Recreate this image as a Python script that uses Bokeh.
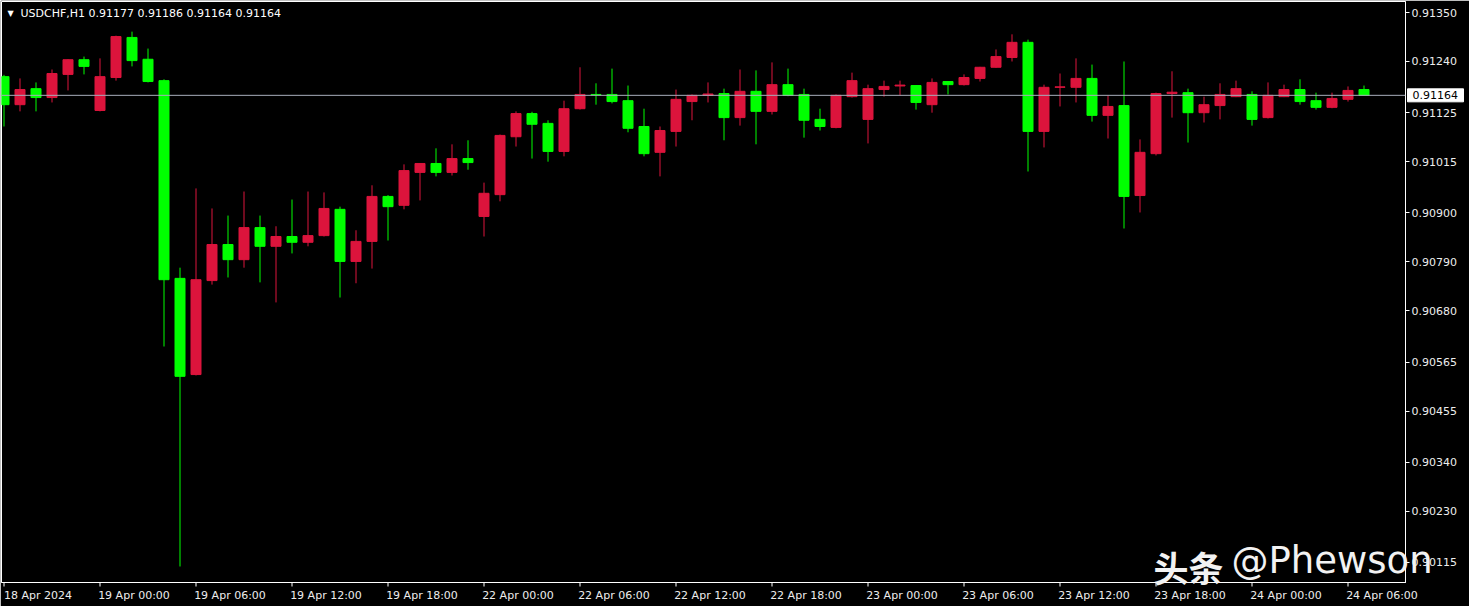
from bokeh.plotting import figure
from bokeh.models import (ColumnDataSource, FixedTicker, PrintfTickFormatter, Span,
                          Label, Range1d)
from bokeh.embed import file_html
from bokeh.resources import INLINE
from bokeh.core.properties import value

symbol = "USDCHF,H1"

# hourly bars, index 0 = 18 Apr 2024 18:00
opens = [0.91206, 0.91143, 0.91179, 0.91159, 0.91211, 0.91244, 0.91130, 0.91204, 0.91294, 0.91245,
         0.91197, 0.90753, 0.90537, 0.90748, 0.90829, 0.90795, 0.90867, 0.90825, 0.90847, 0.90834,
         0.90849, 0.90908, 0.90791, 0.90836, 0.90937, 0.90917, 0.90991, 0.91011, 0.90991, 0.91022,
         0.90892, 0.90941, 0.91071, 0.91123, 0.91101, 0.91038, 0.91134, 0.91166, 0.91166, 0.91152,
         0.91094, 0.91036, 0.91083, 0.91150, 0.91164, 0.91168, 0.91114, 0.91173, 0.91128, 0.91188,
         0.91166, 0.91110, 0.91092, 0.91161, 0.91110, 0.91177, 0.91185, 0.91186, 0.91143, 0.91195,
         0.91188, 0.91202, 0.91227, 0.91249, 0.91283, 0.91083, 0.91182, 0.91182, 0.91202, 0.91119,
         0.91141, 0.90939, 0.91033, 0.91168, 0.91170, 0.91125, 0.91141, 0.91161, 0.91166, 0.91114,
         0.91161, 0.91177, 0.91152, 0.91137, 0.91155, 0.91177]
highs = [0.91210, 0.91202, 0.91193, 0.91222, 0.91245, 0.91251, 0.91247, 0.91298, 0.91307, 0.91269,
         0.91200, 0.90777, 0.90955, 0.90910, 0.90894, 0.90948, 0.90894, 0.90870, 0.90930, 0.90948,
         0.90946, 0.90914, 0.90861, 0.90962, 0.90940, 0.91009, 0.91012, 0.91045, 0.91054, 0.91063,
         0.90968, 0.91076, 0.91128, 0.91127, 0.91108, 0.91152, 0.91227, 0.91191, 0.91224, 0.91186,
         0.91134, 0.91094, 0.91177, 0.91166, 0.91193, 0.91179, 0.91222, 0.91220, 0.91238, 0.91224,
         0.91179, 0.91134, 0.91166, 0.91215, 0.91188, 0.91197, 0.91197, 0.91187, 0.91202, 0.91196,
         0.91211, 0.91228, 0.91267, 0.91301, 0.91289, 0.91188, 0.91213, 0.91247, 0.91233, 0.91164,
         0.91240, 0.91065, 0.91170, 0.91218, 0.91179, 0.91161, 0.91191, 0.91197, 0.91173, 0.91193,
         0.91188, 0.91200, 0.91170, 0.91170, 0.91184, 0.91186]
lows = [0.91094, 0.91128, 0.91128, 0.91148, 0.91175, 0.91211, 0.91128, 0.91197, 0.91229, 0.91193,
        0.90600, 0.90106, 0.90535, 0.90739, 0.90755, 0.90777, 0.90744, 0.90699, 0.90809, 0.90825,
        0.90847, 0.90710, 0.90742, 0.90775, 0.90838, 0.90908, 0.90928, 0.90982, 0.90984, 0.90997,
        0.90847, 0.90926, 0.91049, 0.91022, 0.91015, 0.91027, 0.91132, 0.91143, 0.91146, 0.91081,
        0.91027, 0.90982, 0.91049, 0.91108, 0.91148, 0.91063, 0.91096, 0.91054, 0.91121, 0.91162,
        0.91069, 0.91085, 0.91090, 0.91159, 0.91056, 0.91161, 0.91164, 0.91132, 0.91125, 0.91166,
        0.91186, 0.91195, 0.91226, 0.91240, 0.90993, 0.91047, 0.91139, 0.91148, 0.91105, 0.91067,
        0.90865, 0.90901, 0.91029, 0.91114, 0.91058, 0.91103, 0.91110, 0.91160, 0.91096, 0.91112,
        0.91160, 0.91143, 0.91132, 0.91135, 0.91150, 0.91164]
closes = [0.91143, 0.91177, 0.91159, 0.91213, 0.91244, 0.91229, 0.91206, 0.91296, 0.91242, 0.91195,
          0.90750, 0.90533, 0.90750, 0.90829, 0.90795, 0.90867, 0.90825, 0.90847, 0.90834, 0.90849,
          0.90910, 0.90791, 0.90836, 0.90937, 0.90914, 0.90995, 0.91011, 0.90991, 0.91022, 0.91013,
          0.90944, 0.91074, 0.91123, 0.91099, 0.91038, 0.91134, 0.91166, 0.91165, 0.91150, 0.91090,
          0.91033, 0.91085, 0.91155, 0.91164, 0.91167, 0.91114, 0.91173, 0.91128, 0.91188, 0.91164,
          0.91108, 0.91094, 0.91164, 0.91197, 0.91179, 0.91184, 0.91187, 0.91148, 0.91193, 0.91188,
          0.91204, 0.91227, 0.91251, 0.91283, 0.91083, 0.91182, 0.91183, 0.91202, 0.91119, 0.91139,
          0.90937, 0.91036, 0.91168, 0.91171, 0.91125, 0.91143, 0.91166, 0.91179, 0.91110, 0.91164,
          0.91177, 0.91150, 0.91137, 0.91157, 0.91175, 0.91164]

x_tick_idx = [0, 6, 12, 18, 24, 30, 36, 42, 48, 54, 60, 66, 72, 78, 84]
x_tick_labels = ["18 Apr 2024", "19 Apr 00:00", "19 Apr 06:00", "19 Apr 12:00", "19 Apr 18:00",
                 "22 Apr 00:00", "22 Apr 06:00", "22 Apr 12:00", "22 Apr 18:00", "23 Apr 00:00",
                 "23 Apr 06:00", "23 Apr 12:00", "23 Apr 18:00", "24 Apr 00:00", "24 Apr 06:00"]
y_ticks = [0.90115, 0.90230, 0.90340, 0.90455, 0.90565, 0.90680, 0.90790, 0.90900,
           0.91015, 0.91125, 0.91240, 0.91350]
watermark_cn = "头条"
watermark_en = "@Phewson"

UP = "#DC143C"
DOWN = "#00FF00"
FG = "#EDEDED"
FONT = "DejaVu Sans"

idx = list(range(len(opens)))
src = ColumnDataSource(dict(
    x=idx, h=highs, l=lows,
    top=[max(o, c) for o, c in zip(opens, closes)],
    bottom=[min(o, c) for o, c in zip(opens, closes)],
    color=[UP if c >= o else DOWN for o, c in zip(opens, closes)],
))

W, H = 1469, 606
FW, FH = 1404, 581          # frame size in px
PX = 16.0                   # px per bar
X0 = -0.15625
X1 = X0 + FW / PX
Y0, Y1 = 0.90070065, 0.91374701
DY = (Y1 - Y0) / FH         # price per px
LABEL_SHIFT = 34 / PX       # MT4 time labels start at their tick (half label width)

p = figure(width=W, height=H, output_backend="svg", toolbar_location=None,
           x_range=Range1d(X0, X1), y_range=Range1d(Y0, Y1),
           y_axis_location="right",
           background_fill_color="black", border_fill_color="black")
p.min_border = 0
p.min_border_left = 1
p.min_border_top = 1
p.min_border_right = W - 1 - FW
p.min_border_bottom = H - 1 - FH
p.outline_line_color = "white"
p.outline_line_width = 1
p.xgrid.visible = False
p.ygrid.visible = False

# price axis
p.yaxis.ticker = FixedTicker(ticks=y_ticks)
p.yaxis.formatter = PrintfTickFormatter(format="%.5f")
p.yaxis.major_label_text_font = FONT
p.yaxis.major_label_text_font_size = "11px"
p.yaxis.major_label_text_color = FG
p.yaxis.major_label_standoff = 2
p.yaxis.axis_line_color = "white"
p.yaxis.major_tick_line_color = "white"
p.yaxis.major_tick_out = 4
p.yaxis.major_tick_in = 0
p.yaxis.minor_tick_line_color = None

# time axis: labels drawn on a shifted copy of the x range so they start at their tick
p.extra_x_ranges = {"labels": Range1d(X0 - LABEL_SHIFT, X1 - LABEL_SHIFT)}
xax = p.xaxis[0]
xax.x_range_name = "labels"
xax.ticker = FixedTicker(ticks=x_tick_idx)
xax.major_label_overrides = {t: s for t, s in zip(x_tick_idx, x_tick_labels)}
xax.major_label_text_font = FONT
xax.major_label_text_font_size = "11px"
xax.major_label_text_color = FG
xax.major_label_standoff = 2
xax.axis_line_color = "white"
xax.major_tick_line_color = None
xax.major_tick_out = 4
xax.major_tick_in = 0
xax.minor_tick_line_color = None
# tick marks at the real bar positions
p.segment(x0=x_tick_idx, y0=[Y0] * len(x_tick_idx), x1=x_tick_idx,
          y1=[Y0 - 4 * DY] * len(x_tick_idx), line_color="white", line_width=1,
          level="overlay")

# candles
p.segment(x0="x", y0="l", x1="x", y1="h", line_color="color", line_width=1, source=src)
p.vbar(x="x", width=0.625, top="top", bottom="bottom", fill_color="color",
       line_color="color", line_width=1, source=src)

# current price line
p.add_layout(Span(location=closes[-1], dimension="width", line_color="#A8AEBB", line_width=1))

# price box on the axis (overlay level, outside the frame)
p.rect(x=[X1 + 30 / PX], y=[closes[-1]], width=56 / PX, height=13 * DY,
       fill_color="white", line_color="white", level="overlay")
p.text(x=[X1 + 7 / PX], y=[closes[-1]], text=[f"{closes[-1]:.5f}"],
       text_font=value(FONT), text_font_size=value("11px"), text_color="black",
       text_align="left", text_baseline="middle", level="overlay")

# header
p.add_layout(Label(x=6, y=FH - 12, x_units="screen", y_units="screen", text="\u25BC",
                   text_font=FONT, text_font_size="8px", text_color="white",
                   text_baseline="middle"))
header = f"{symbol}  {opens[-1]:.5f} {highs[-1]:.5f} {lows[-1]:.5f} {closes[-1]:.5f}"
p.add_layout(Label(x=19, y=FH - 12, x_units="screen", y_units="screen", text=header,
                   text_font=FONT, text_font_size="11px", text_color="white",
                   text_baseline="middle"))

# watermark
p.text(x=[X1 - 252 / PX], y=[Y0 + 16 * DY], text=[watermark_cn],
       text_font=value("Noto Sans CJK SC"), text_font_size=value("35px"),
       text_font_style="bold", text_color="#F2F2F2", text_baseline="alphabetic",
       level="overlay")
p.text(x=[X1 - 174 / PX], y=[Y0 + 22 * DY], text=[watermark_en],
       text_font=value(FONT), text_font_size=value("37px"),
       text_color="#F2F2F2", text_baseline="alphabetic", level="overlay")

open("out.html", "w").write(file_html(p, INLINE))
